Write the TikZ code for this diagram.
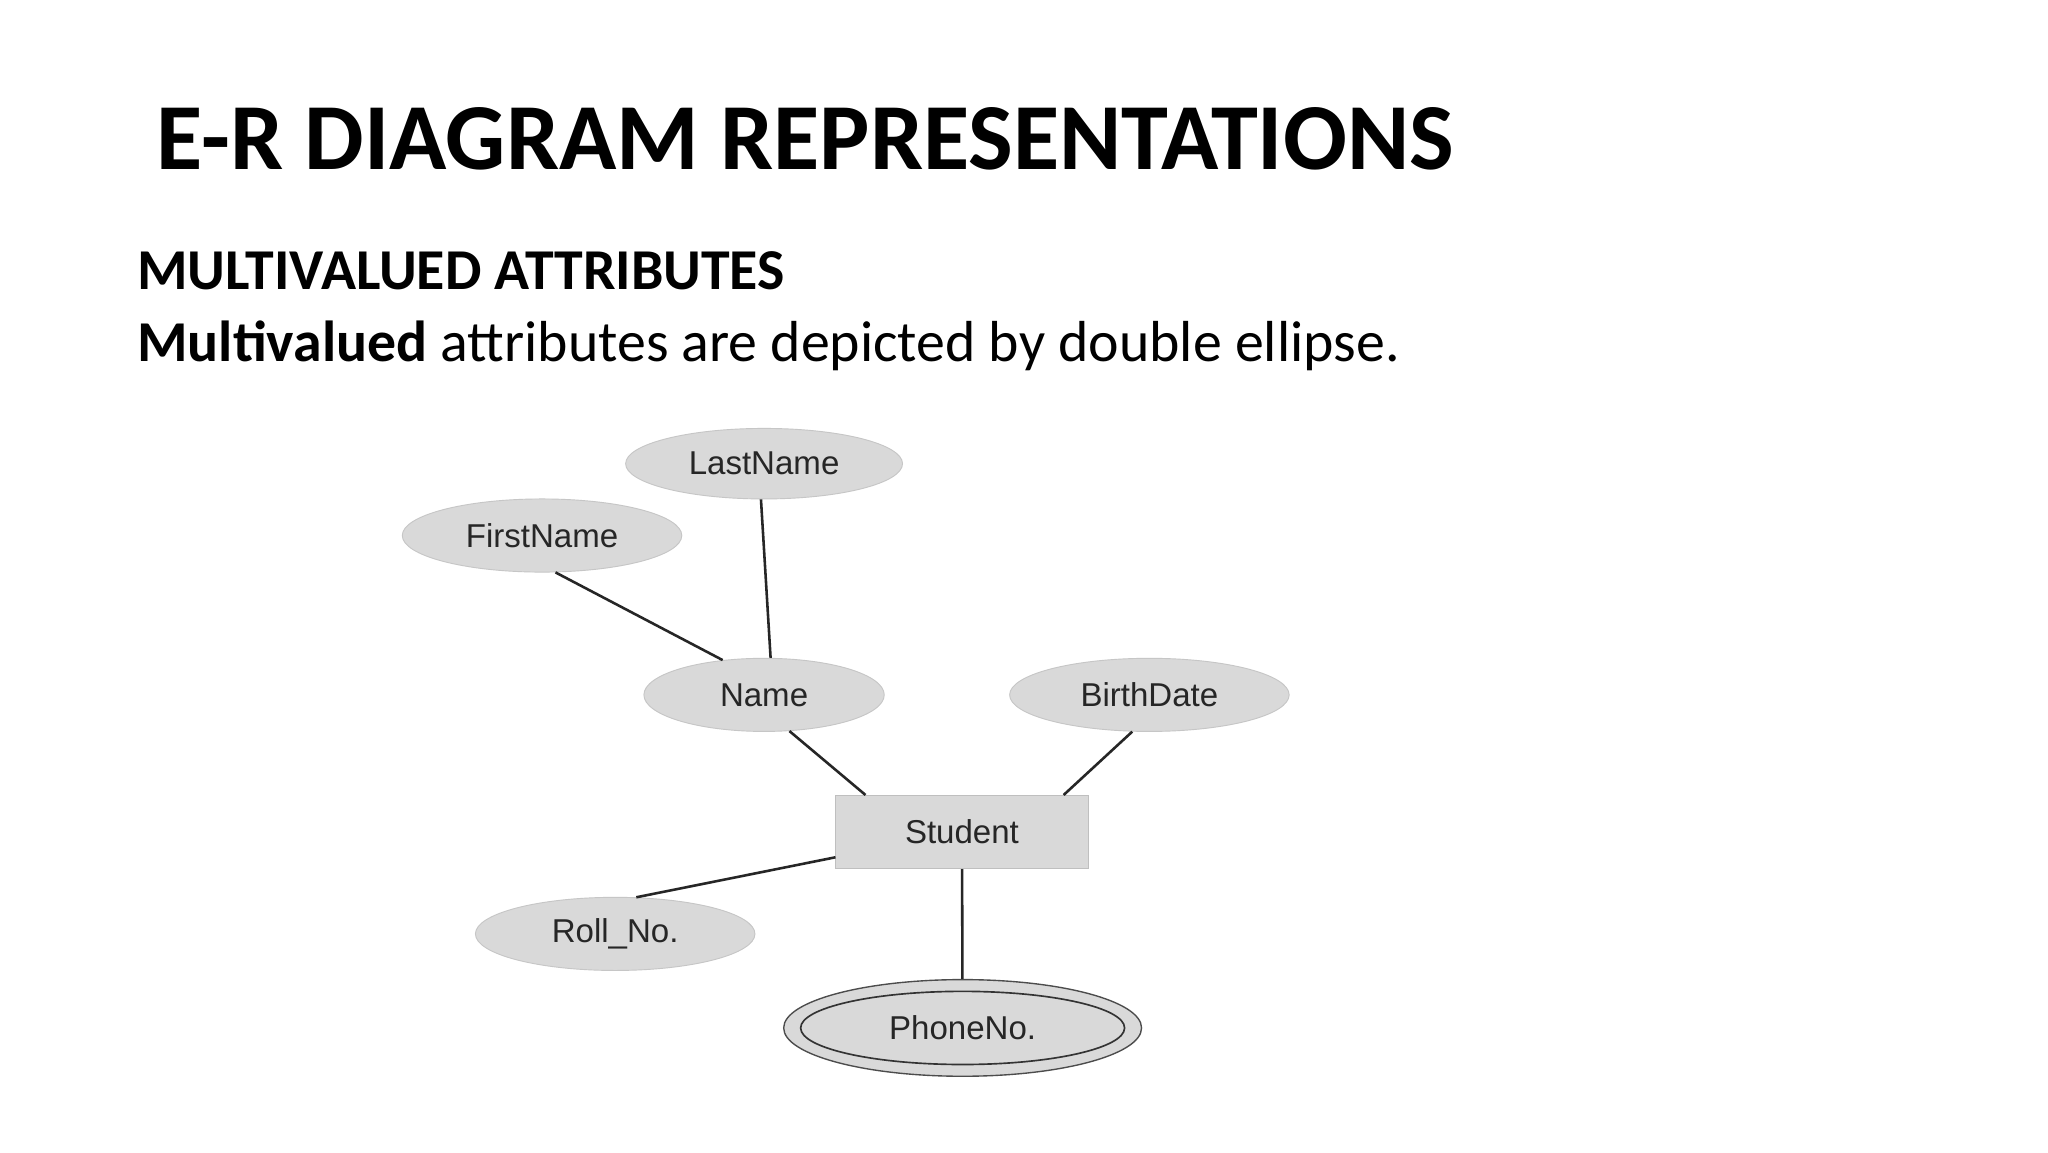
\documentclass[tikz,border=0pt]{standalone}
\usepackage{fontspec}
\setmainfont{Carlito}
\newfontfamily\arialf{Liberation Sans}
\usetikzlibrary{shapes.geometric}
\begin{document}
\begin{tikzpicture}[x=0.05cm,y=-0.05cm,
  attr/.style={ellipse,fill=gray!30,draw=gray!45,line width=1pt,inner sep=0pt,font=\arialf\fontsize{36}{40}\selectfont,text=black!85},
  conn/.style={line width=2.8pt,black!85}]
\fill[white] (0,0) rectangle (1568,882);
\useasboundingbox (0,0) rectangle (1568,882);
\node[anchor=base west,font=\bfseries\fontsize{103}{115}\selectfont,inner sep=0] at (120,130) {E-R DIAGRAM REPRESENTATIONS};
\node[anchor=base west,font=\bfseries\fontsize{63}{70}\selectfont,inner sep=0] at (105,222) {MULTIVALUED ATTRIBUTES};
\node[anchor=base west,font=\fontsize{63}{70}\selectfont,inner sep=0] at (105,277) {\textbf{Multivalued} attributes are depicted by double ellipse.};
\node[attr,minimum width=212*0.05cm,minimum height=54*0.05cm] (ln) at (585,355) {LastName};
\node[attr,minimum width=214*0.05cm,minimum height=56*0.05cm] (fn) at (415,410) {FirstName};
\node[attr,minimum width=184*0.05cm,minimum height=56*0.05cm] (nm) at (585,532) {Name};
\node[attr,minimum width=214*0.05cm,minimum height=56*0.05cm] (bd) at (880,532) {BirthDate};
\node[attr,minimum width=214*0.05cm,minimum height=56*0.05cm] (rn) at (471,715) {Roll\_No.};
\node[rectangle,fill=gray!30,draw=gray!50,line width=1pt,minimum width=193*0.05cm,minimum height=56*0.05cm,font=\arialf\fontsize{36}{40}\selectfont,text=black!85] (st) at (736.5,637) {Student};
\node[ellipse,fill=gray!30,draw=gray!60!black,line width=1.5pt,minimum width=274*0.05cm,minimum height=74*0.05cm] (pho) at (737,787) {};
\node[attr,draw=black!80,line width=1.8pt,minimum width=248*0.05cm,minimum height=56*0.05cm] (ph) at (737,787) {PhoneNo.};
\draw[conn] (fn.-70) -- (nm.140);
\draw[conn] (ln.-95) -- (nm.80);
\draw[conn] (nm.-55) -- ([xshift=23*0.05cm]st.north west);
\draw[conn] (bd.-115) -- ([xshift=-19*0.05cm]st.north east);
\draw[conn] (rn.60) -- ([yshift=9*0.05cm]st.south west);
\draw[conn] (st) -- (pho);
\end{tikzpicture}
\end{document}
